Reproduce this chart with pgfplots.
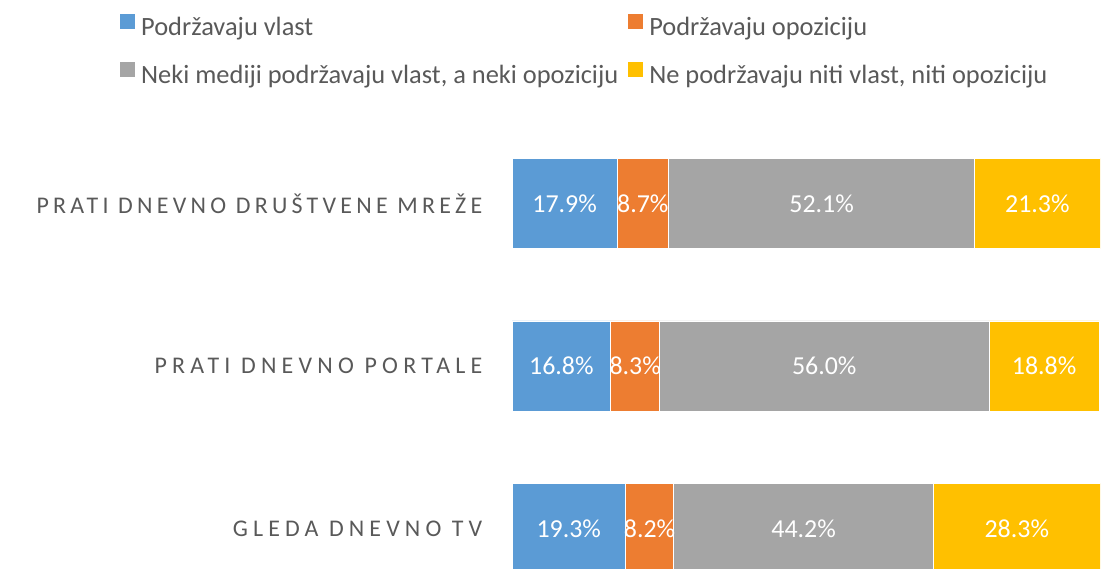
\documentclass[border=0pt]{standalone}
\usepackage{fontspec}
\setmainfont{Carlito}
\newfontfamily\spA[LetterSpace=17.8]{Carlito}
\newfontfamily\spB[LetterSpace=21.9]{Carlito}
\newfontfamily\spC[LetterSpace=21.5]{Carlito}
\usepackage{pgfplots}
\pgfplotsset{compat=1.18}
\definecolor{cblue}{HTML}{5B9BD5}
\definecolor{corange}{HTML}{ED7D31}
\definecolor{cgray}{HTML}{A5A5A5}
\definecolor{cyellow}{HTML}{FFC000}
\definecolor{ctext}{HTML}{595959}
\pgfplotsset{
  common/.style={
    at={(512bp,-40.75bp)}, anchor=south west,
    scale only axis, width=588bp, height=487.5bp,
    xmin=0, xmax=100, ymin=-0.5, ymax=2.5,
  }
}
\begin{document}
\begin{tikzpicture}
\begin{axis}[
  common,
  xbar stacked, bar width=0.555,
  hide x axis,
  y axis line style={draw=none},
  ytick={0,1,2},
  yticklabels={{\spC GLEDA DNEVNO TV}, {\spB PRATI DNEVNO PORTALE}, {\spA PRATI DNEVNO DRUŠTVENE MREŽE}},
  ytick style={draw=none},
  major tick length=0pt,
  yticklabel style={font=\fontsize{24}{24}\selectfont, text=ctext, anchor=east, inner sep=0pt, xshift=-29.5bp},
  legend columns=2,
  legend cell align=left,
  legend style={at={(axis description cs:-0.6667,1.222)}, anchor=north west, draw=none, fill=none, inner sep=0pt,
    font=\fontsize{26.5}{26.5}\selectfont, text=ctext, row sep=20bp,
    nodes={inner sep=0pt, text height=19bp, text depth=6bp},
    /tikz/every odd column/.append style={column sep=6bp},
    /tikz/every even column/.append style={column sep=10bp}},
  legend image code/.code={\path[#1, draw=none] (0bp,0bp) rectangle (15bp,15bp);},
]
\addplot[fill=cblue, draw=white, line width=0.6bp] coordinates {(19.3,0) (16.8,1) (17.9,2)};
\addplot[fill=corange, draw=white, line width=0.6bp] coordinates {(8.2,0) (8.3,1) (8.7,2)};
\addplot[fill=cgray, draw=white, line width=0.6bp] coordinates {(44.2,0) (56.0,1) (52.1,2)};
\addplot[fill=cyellow, draw=white, line width=0.6bp] coordinates {(28.3,0) (18.8,1) (21.3,2)};
\legend{Podržavaju vlast, Podržavaju opoziciju, {Neki mediji podržavaju vlast, a neki opoziciju}, {Ne podržavaju niti vlast, niti opoziciju}}
\end{axis}
\begin{axis}[
  common,
  hide axis,
  nodes near coords={\pgfplotspointmeta},
  point meta=explicit symbolic,
  every node near coord/.append style={font=\fontsize{26}{26}\selectfont, text=white, anchor=center, inner sep=0pt},
]
\addplot[only marks, mark=none] coordinates {
  (8.95,2) [17.9\%] (22.25,2) [8.7\%] (52.65,2) [52.1\%] (89.35,2) [21.3\%]
  (8.40,1) [16.8\%] (20.95,1) [8.3\%] (53.10,1) [56.0\%] (90.50,1) [18.8\%]
  (9.65,0) [19.3\%] (23.40,0) [8.2\%] (49.60,0) [44.2\%] (85.85,0) [28.3\%]
};
\end{axis}
\pgfresetboundingbox
\path[use as bounding box] (0,0) rectangle (1101bp,569bp);
\end{tikzpicture}
\end{document}
